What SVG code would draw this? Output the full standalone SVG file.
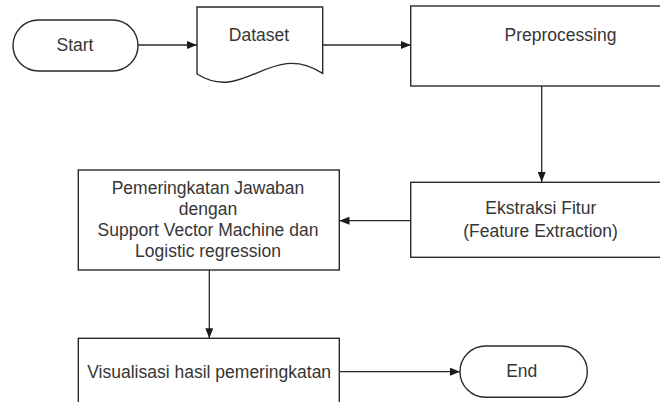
<svg xmlns="http://www.w3.org/2000/svg" width="660" height="402" viewBox="0 0 660 402">
<defs>
<style>
.shape{fill:#ffffff;stroke:#2a2a2a;stroke-width:1.4}
.conn{fill:none;stroke:#2a2a2a;stroke-width:1.3}
.lbl{font-family:"Liberation Sans",Arial,sans-serif;font-size:17.5px;fill:#363636;text-anchor:middle}
</style>
<marker id="arrow" viewBox="0 0 10 8" refX="10" refY="4" markerWidth="10" markerHeight="8" markerUnits="userSpaceOnUse" orient="auto">
<path d="M0,0 L10,4 L0,8 Z" fill="#1a1a1a"/>
</marker>
</defs>
<rect width="660" height="402" fill="#ffffff"/>
<g id="connectors">
<line class="conn" x1="138" y1="45" x2="197" y2="45" marker-end="url(#arrow)"/>
<line class="conn" x1="322.7" y1="45" x2="410.7" y2="45" marker-end="url(#arrow)"/>
<line class="conn" x1="541.7" y1="86" x2="541.7" y2="182" marker-end="url(#arrow)"/>
<line class="conn" x1="410.7" y1="220.7" x2="339.5" y2="220.7" marker-end="url(#arrow)"/>
<line class="conn" x1="209.3" y1="270" x2="209.3" y2="338.3" marker-end="url(#arrow)"/>
<line class="conn" x1="339.3" y1="371.7" x2="460" y2="371.7" marker-end="url(#arrow)"/>
</g>
<g id="start">
<rect class="shape" x="13" y="20" width="125" height="51" rx="25.5" ry="25.5"/>
<text class="lbl" x="75" y="50.5">Start</text>
</g>
<g id="dataset">
<path class="shape" d="M197,7 H322.7 V73.3 C270,40 245,104 197,74 Z"/>
<text class="lbl" x="259" y="40.7">Dataset</text>
</g>
<g id="preprocessing">
<rect class="shape" x="410.7" y="6" width="300" height="80"/>
<text class="lbl" x="560.5" y="40.7">Preprocessing</text>
</g>
<g id="ekstraksi">
<rect class="shape" x="410.7" y="182.3" width="270" height="75"/>
<text class="lbl" x="540.8" y="214.3">Ekstraksi Fitur</text>
<text class="lbl" x="540.5" y="237.3">(Feature Extraction)</text>
</g>
<g id="pemeringkatan">
<rect class="shape" x="78.3" y="170" width="261" height="100"/>
<text class="lbl" x="208" y="194.3">Pemeringkatan Jawaban</text>
<text class="lbl" x="208" y="215">dengan</text>
<text class="lbl" x="208" y="236">Support Vector Machine dan</text>
<text class="lbl" x="208" y="256.7">Logistic regression</text>
</g>
<g id="visualisasi">
<rect class="shape" x="78.3" y="338.3" width="261" height="80"/>
<text class="lbl" x="209.2" y="378.3">Visualisasi hasil pemeringkatan</text>
</g>
<g id="end">
<rect class="shape" x="460" y="346" width="127.3" height="51.3" rx="25.6" ry="25.6"/>
<text class="lbl" x="521.7" y="376.7">End</text>
</g>
</svg>
